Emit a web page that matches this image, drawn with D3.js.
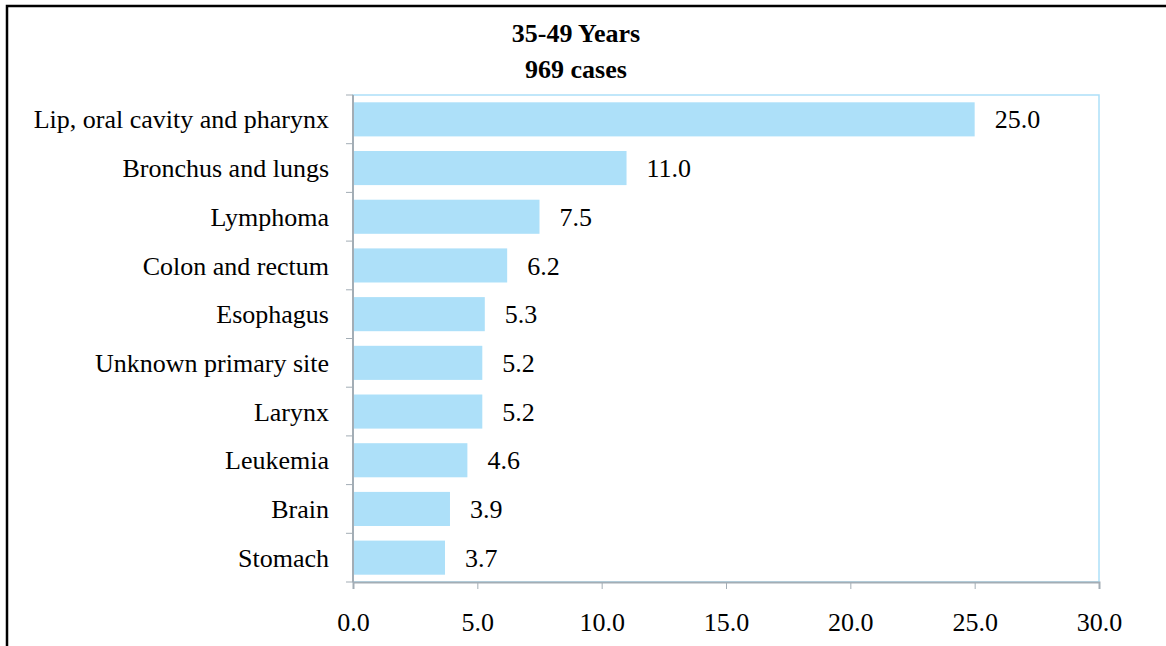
<!DOCTYPE html>
<html>
<head>
<meta charset="utf-8">
<script src="https://cdn.jsdelivr.net/npm/d3@7"></script>
<style>
  body { margin: 0; background: #fff; }
  svg { display: block; font-family: "Liberation Serif", "Times New Roman", serif; }
</style>
</head>
<body>
<svg id="chart" width="1166" height="646"></svg>
<script>
// data
const categories = [
  "Lip, oral cavity and pharynx",
  "Bronchus and lungs",
  "Lymphoma",
  "Colon and rectum",
  "Esophagus",
  "Unknown primary site",
  "Larynx",
  "Leukemia",
  "Brain",
  "Stomach"
];
const values = [25.0, 11.0, 7.5, 6.2, 5.3, 5.2, 5.2, 4.6, 3.9, 3.7];
const xTicks = [0, 5, 10, 15, 20, 25, 30];
const titleLines = ["35-49 Years", "969 cases"];

const svg = d3.select("#chart");
const plot = { left: 353, top: 95, right: 1099, bottom: 582 };
const fontSize = 26;

// outer frame (runs off the right/bottom edge like the original)
svg.append("rect")
  .attr("x", 7).attr("y", 6)
  .attr("width", 1200).attr("height", 700)
  .attr("fill", "none")
  .attr("stroke", "#000")
  .attr("stroke-width", 2.5);

const x = d3.scaleLinear().domain([0, 30]).range([plot.left, plot.right]);
const y = d3.scaleBand()
  .domain(categories)
  .range([plot.top, plot.bottom])
  .paddingInner(0.3)
  .paddingOuter(0.15);

// plot area border (light blue)
svg.append("rect")
  .attr("x", plot.left).attr("y", plot.top)
  .attr("width", plot.right - plot.left)
  .attr("height", plot.bottom - plot.top)
  .attr("fill", "none")
  .attr("stroke", "#ade0f9")
  .attr("stroke-width", 1.5);

// bars
svg.selectAll("rect.bar")
  .data(values)
  .enter()
  .append("rect")
  .attr("class", "bar")
  .attr("x", x(0))
  .attr("y", (d, i) => y(categories[i]))
  .attr("width", d => x(d) - x(0))
  .attr("height", y.bandwidth())
  .attr("fill", "#ade0f9");

// value labels
svg.selectAll("text.val")
  .data(values)
  .enter()
  .append("text")
  .attr("class", "val")
  .attr("x", d => x(d) + 20)
  .attr("y", (d, i) => y(categories[i]) + y.bandwidth() / 2)
  .attr("dy", "0.35em")
  .attr("font-size", fontSize)
  .attr("fill", "#000")
  .text(d => d.toFixed(1));

// x axis
const axisColor = "#a3adb5";
const xAxis = svg.append("g")
  .attr("transform", "translate(0," + plot.bottom + ")")
  .call(d3.axisBottom(x).tickValues(xTicks).tickFormat(d3.format(".1f")).tickSize(7).tickPadding(24));
xAxis.select(".domain").attr("stroke", axisColor).attr("stroke-width", 2);
xAxis.selectAll(".tick line").attr("stroke", axisColor);
xAxis.selectAll(".tick text")
  .attr("font-size", fontSize)
  .attr("font-family", "Liberation Serif, serif")
  .attr("fill", "#000");

// y axis: line + ticks at category boundaries
const boundaries = d3.range(categories.length + 1).map(i => plot.top + i * (plot.bottom - plot.top) / categories.length);
svg.append("line")
  .attr("x1", plot.left).attr("x2", plot.left)
  .attr("y1", plot.top).attr("y2", plot.bottom)
  .attr("stroke", axisColor)
  .attr("stroke-width", 2);
svg.selectAll("line.ytick")
  .data(boundaries)
  .enter()
  .append("line")
  .attr("class", "ytick")
  .attr("x1", plot.left - 7).attr("x2", plot.left)
  .attr("y1", d => d).attr("y2", d => d)
  .attr("stroke", axisColor);

// category labels
svg.selectAll("text.cat")
  .data(categories)
  .enter()
  .append("text")
  .attr("class", "cat")
  .attr("x", plot.left - 24)
  .attr("y", d => y(d) + y.bandwidth() / 2)
  .attr("dy", "0.35em")
  .attr("text-anchor", "end")
  .attr("font-size", fontSize)
  .attr("fill", "#000")
  .text(d => d);

// title
svg.selectAll("text.title")
  .data(titleLines)
  .enter()
  .append("text")
  .attr("class", "title")
  .attr("x", 576)
  .attr("y", (d, i) => 42 + i * 36)
  .attr("text-anchor", "middle")
  .attr("font-size", fontSize)
  .attr("font-weight", "bold")
  .attr("fill", "#000")
  .text(d => d);
</script>
</body>
</html>
